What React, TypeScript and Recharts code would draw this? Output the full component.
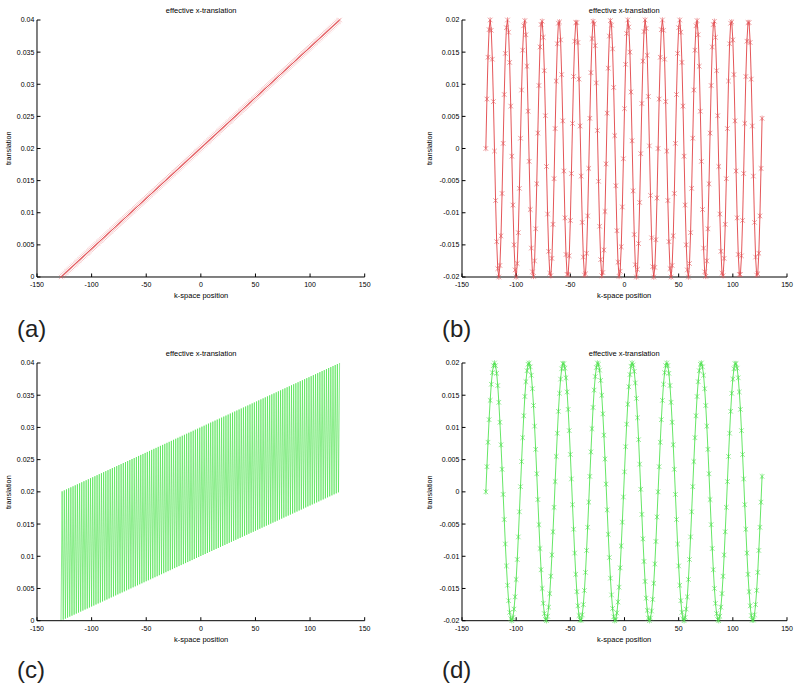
import { LineChart, Line, XAxis, YAxis } from "recharts";

// k-space line index shared by all four panels
const kPos = [
  -128, -127, -126, -125, -124, -123, -122, -121, -120, -119, -118, -117, -116, -115, -114, -113,
  -112, -111, -110, -109, -108, -107, -106, -105, -104, -103, -102, -101, -100, -99, -98, -97,
  -96, -95, -94, -93, -92, -91, -90, -89, -88, -87, -86, -85, -84, -83, -82, -81,
  -80, -79, -78, -77, -76, -75, -74, -73, -72, -71, -70, -69, -68, -67, -66, -65,
  -64, -63, -62, -61, -60, -59, -58, -57, -56, -55, -54, -53, -52, -51, -50, -49,
  -48, -47, -46, -45, -44, -43, -42, -41, -40, -39, -38, -37, -36, -35, -34, -33,
  -32, -31, -30, -29, -28, -27, -26, -25, -24, -23, -22, -21, -20, -19, -18, -17,
  -16, -15, -14, -13, -12, -11, -10, -9, -8, -7, -6, -5, -4, -3, -2, -1,
  0, 1, 2, 3, 4, 5, 6, 7, 8, 9, 10, 11, 12, 13, 14, 15,
  16, 17, 18, 19, 20, 21, 22, 23, 24, 25, 26, 27, 28, 29, 30, 31,
  32, 33, 34, 35, 36, 37, 38, 39, 40, 41, 42, 43, 44, 45, 46, 47,
  48, 49, 50, 51, 52, 53, 54, 55, 56, 57, 58, 59, 60, 61, 62, 63,
  64, 65, 66, 67, 68, 69, 70, 71, 72, 73, 74, 75, 76, 77, 78, 79,
  80, 81, 82, 83, 84, 85, 86, 87, 88, 89, 90, 91, 92, 93, 94, 95,
  96, 97, 98, 99, 100, 101, 102, 103, 104, 105, 106, 107, 108, 109, 110, 111,
  112, 113, 114, 115, 116, 117, 118, 119, 120, 121, 122, 123, 124, 125, 126, 127,
];

// (a) steady drift
const driftA = [
  0, 0.00016, 0.00031, 0.00047, 0.00063, 0.00078, 0.00094, 0.0011, 0.00125, 0.00141, 0.00157, 0.00173, 0.00188, 0.00204, 0.0022, 0.00235,
  0.00251, 0.00267, 0.00282, 0.00298, 0.00314, 0.00329, 0.00345, 0.00361, 0.00376, 0.00392, 0.00408, 0.00424, 0.00439, 0.00455, 0.00471, 0.00486,
  0.00502, 0.00518, 0.00533, 0.00549, 0.00565, 0.0058, 0.00596, 0.00612, 0.00627, 0.00643, 0.00659, 0.00675, 0.0069, 0.00706, 0.00722, 0.00737,
  0.00753, 0.00769, 0.00784, 0.008, 0.00816, 0.00831, 0.00847, 0.00863, 0.00878, 0.00894, 0.0091, 0.00925, 0.00941, 0.00957, 0.00973, 0.00988,
  0.01004, 0.0102, 0.01035, 0.01051, 0.01067, 0.01082, 0.01098, 0.01114, 0.01129, 0.01145, 0.01161, 0.01176, 0.01192, 0.01208, 0.01224, 0.01239,
  0.01255, 0.01271, 0.01286, 0.01302, 0.01318, 0.01333, 0.01349, 0.01365, 0.0138, 0.01396, 0.01412, 0.01427, 0.01443, 0.01459, 0.01475, 0.0149,
  0.01506, 0.01522, 0.01537, 0.01553, 0.01569, 0.01584, 0.016, 0.01616, 0.01631, 0.01647, 0.01663, 0.01678, 0.01694, 0.0171, 0.01725, 0.01741,
  0.01757, 0.01773, 0.01788, 0.01804, 0.0182, 0.01835, 0.01851, 0.01867, 0.01882, 0.01898, 0.01914, 0.01929, 0.01945, 0.01961, 0.01976, 0.01992,
  0.02008, 0.02024, 0.02039, 0.02055, 0.02071, 0.02086, 0.02102, 0.02118, 0.02133, 0.02149, 0.02165, 0.0218, 0.02196, 0.02212, 0.02227, 0.02243,
  0.02259, 0.02275, 0.0229, 0.02306, 0.02322, 0.02337, 0.02353, 0.02369, 0.02384, 0.024, 0.02416, 0.02431, 0.02447, 0.02463, 0.02478, 0.02494,
  0.0251, 0.02525, 0.02541, 0.02557, 0.02573, 0.02588, 0.02604, 0.0262, 0.02635, 0.02651, 0.02667, 0.02682, 0.02698, 0.02714, 0.02729, 0.02745,
  0.02761, 0.02776, 0.02792, 0.02808, 0.02824, 0.02839, 0.02855, 0.02871, 0.02886, 0.02902, 0.02918, 0.02933, 0.02949, 0.02965, 0.0298, 0.02996,
  0.03012, 0.03027, 0.03043, 0.03059, 0.03075, 0.0309, 0.03106, 0.03122, 0.03137, 0.03153, 0.03169, 0.03184, 0.032, 0.03216, 0.03231, 0.03247,
  0.03263, 0.03278, 0.03294, 0.0331, 0.03325, 0.03341, 0.03357, 0.03373, 0.03388, 0.03404, 0.0342, 0.03435, 0.03451, 0.03467, 0.03482, 0.03498,
  0.03514, 0.03529, 0.03545, 0.03561, 0.03576, 0.03592, 0.03608, 0.03624, 0.03639, 0.03655, 0.03671, 0.03686, 0.03702, 0.03718, 0.03733, 0.03749,
  0.03765, 0.0378, 0.03796, 0.03812, 0.03827, 0.03843, 0.03859, 0.03875, 0.0389, 0.03906, 0.03922, 0.03937, 0.03953, 0.03969, 0.03984, 0.04,
];

// (b) fast oscillation
const fastB = [
  0, 0.0077, 0.0142, 0.0185, 0.02, 0.0184, 0.0139, 0.0073, -0.0004, -0.0081, -0.0145, -0.0187, -0.02, -0.0182, -0.0136, -0.007,
  0.0008, 0.0084, 0.0148, 0.0188, 0.02, 0.0181, 0.0134, 0.0066, -0.0012, -0.0088, -0.015, -0.0189, -0.02, -0.0179, -0.0131, -0.0062,
  0.0016, 0.0091, 0.0153, 0.0191, 0.0199, 0.0177, 0.0128, 0.0058, -0.002, -0.0095, -0.0155, -0.0192, -0.0199, -0.0175, -0.0125, -0.0055,
  0.0024, 0.0098, 0.0158, 0.0193, 0.0198, 0.0173, 0.0121, 0.0051, -0.0028, -0.0102, -0.016, -0.0194, -0.0198, -0.0171, -0.0118, -0.0047,
  0.0031, 0.0105, 0.0163, 0.0195, 0.0197, 0.0169, 0.0115, 0.0043, -0.0035, -0.0108, -0.0165, -0.0196, -0.0196, -0.0167, -0.0112, -0.0039,
  0.0039, 0.0112, 0.0167, 0.0196, 0.0196, 0.0165, 0.0108, 0.0035, -0.0043, -0.0115, -0.0169, -0.0197, -0.0195, -0.0163, -0.0105, -0.0031,
  0.0047, 0.0118, 0.0171, 0.0198, 0.0194, 0.016, 0.0102, 0.0028, -0.0051, -0.0121, -0.0173, -0.0198, -0.0193, -0.0158, -0.0098, -0.0024,
  0.0055, 0.0125, 0.0175, 0.0199, 0.0192, 0.0155, 0.0095, 0.002, -0.0058, -0.0128, -0.0177, -0.0199, -0.0191, -0.0153, -0.0091, -0.0016,
  0.0062, 0.0131, 0.0179, 0.02, 0.0189, 0.015, 0.0088, 0.0012, -0.0066, -0.0134, -0.0181, -0.02, -0.0188, -0.0148, -0.0084, -0.0008,
  0.007, 0.0136, 0.0182, 0.02, 0.0187, 0.0145, 0.0081, 0.0004, -0.0073, -0.0139, -0.0184, -0.02, -0.0185, -0.0142, -0.0077,
  0, 0.0077, 0.0142, 0.0185, 0.02, 0.0184, 0.0139, 0.0073, -0.0004, -0.0081, -0.0145, -0.0187, -0.02, -0.0182, -0.0136, -0.007,
  0.0008, 0.0084, 0.0148, 0.0188, 0.02, 0.0181, 0.0134, 0.0066, -0.0012, -0.0088, -0.015, -0.0189, -0.02, -0.0179, -0.0131, -0.0062,
  0.0016, 0.0091, 0.0153, 0.0191, 0.0199, 0.0177, 0.0128, 0.0058, -0.002, -0.0095, -0.0155, -0.0192, -0.0199, -0.0175, -0.0125, -0.0055,
  0.0024, 0.0098, 0.0158, 0.0193, 0.0198, 0.0173, 0.0121, 0.0051, -0.0028, -0.0102, -0.016, -0.0194, -0.0198, -0.0171, -0.0118, -0.0047,
  0.0031, 0.0105, 0.0163, 0.0195, 0.0197, 0.0169, 0.0115, 0.0043, -0.0035, -0.0108, -0.0165, -0.0196, -0.0196, -0.0167, -0.0112, -0.0039,
  0.0039, 0.0112, 0.0167, 0.0196, 0.0196, 0.0165, 0.0108, 0.0035, -0.0043, -0.0115, -0.0169, -0.0197, -0.0195, -0.0163, -0.0105, -0.0031,
  0.0047,
];

// (c) same drift, but lines acquired in two interleaved passes
const mixedC = [
  0, 0.02008, 0.00016, 0.02024, 0.00031, 0.02039, 0.00047, 0.02055, 0.00063, 0.02071, 0.00078, 0.02086, 0.00094, 0.02102, 0.0011, 0.02118,
  0.00125, 0.02133, 0.00141, 0.02149, 0.00157, 0.02165, 0.00173, 0.0218, 0.00188, 0.02196, 0.00204, 0.02212, 0.0022, 0.02227, 0.00235, 0.02243,
  0.00251, 0.02259, 0.00267, 0.02275, 0.00282, 0.0229, 0.00298, 0.02306, 0.00314, 0.02322, 0.00329, 0.02337, 0.00345, 0.02353, 0.00361, 0.02369,
  0.00376, 0.02384, 0.00392, 0.024, 0.00408, 0.02416, 0.00424, 0.02431, 0.00439, 0.02447, 0.00455, 0.02463, 0.00471, 0.02478, 0.00486, 0.02494,
  0.00502, 0.0251, 0.00518, 0.02525, 0.00533, 0.02541, 0.00549, 0.02557, 0.00565, 0.02573, 0.0058, 0.02588, 0.00596, 0.02604, 0.00612, 0.0262,
  0.00627, 0.02635, 0.00643, 0.02651, 0.00659, 0.02667, 0.00675, 0.02682, 0.0069, 0.02698, 0.00706, 0.02714, 0.00722, 0.02729, 0.00737, 0.02745,
  0.00753, 0.02761, 0.00769, 0.02776, 0.00784, 0.02792, 0.008, 0.02808, 0.00816, 0.02824, 0.00831, 0.02839, 0.00847, 0.02855, 0.00863, 0.02871,
  0.00878, 0.02886, 0.00894, 0.02902, 0.0091, 0.02918, 0.00925, 0.02933, 0.00941, 0.02949, 0.00957, 0.02965, 0.00973, 0.0298, 0.00988, 0.02996,
  0.01004, 0.03012, 0.0102, 0.03027, 0.01035, 0.03043, 0.01051, 0.03059, 0.01067, 0.03075, 0.01082, 0.0309, 0.01098, 0.03106, 0.01114, 0.03122,
  0.01129, 0.03137, 0.01145, 0.03153, 0.01161, 0.03169, 0.01176, 0.03184, 0.01192, 0.032, 0.01208, 0.03216, 0.01224, 0.03231, 0.01239, 0.03247,
  0.01255, 0.03263, 0.01271, 0.03278, 0.01286, 0.03294, 0.01302, 0.0331, 0.01318, 0.03325, 0.01333, 0.03341, 0.01349, 0.03357, 0.01365, 0.03373,
  0.0138, 0.03388, 0.01396, 0.03404, 0.01412, 0.0342, 0.01427, 0.03435, 0.01443, 0.03451, 0.01459, 0.03467, 0.01475, 0.03482, 0.0149, 0.03498,
  0.01506, 0.03514, 0.01522, 0.03529, 0.01537, 0.03545, 0.01553, 0.03561, 0.01569, 0.03576, 0.01584, 0.03592, 0.016, 0.03608, 0.01616, 0.03624,
  0.01631, 0.03639, 0.01647, 0.03655, 0.01663, 0.03671, 0.01678, 0.03686, 0.01694, 0.03702, 0.0171, 0.03718, 0.01725, 0.03733, 0.01741, 0.03749,
  0.01757, 0.03765, 0.01773, 0.0378, 0.01788, 0.03796, 0.01804, 0.03812, 0.0182, 0.03827, 0.01835, 0.03843, 0.01851, 0.03859, 0.01867, 0.03875,
  0.01882, 0.0389, 0.01898, 0.03906, 0.01914, 0.03922, 0.01929, 0.03937, 0.01945, 0.03953, 0.01961, 0.03969, 0.01976, 0.03984, 0.01992, 0.04,
];

// (d) slower oscillation
const slowD = [
  0, 0.0039, 0.0077, 0.0112, 0.0142, 0.0167, 0.0185, 0.0196, 0.02, 0.0196, 0.0184, 0.0165, 0.0139, 0.0108, 0.0073, 0.0035,
  -0.0004, -0.0043, -0.0081, -0.0115, -0.0145, -0.0169, -0.0187, -0.0197, -0.02, -0.0195, -0.0182, -0.0163, -0.0136, -0.0105, -0.007, -0.0031,
  0.0008, 0.0047, 0.0084, 0.0118, 0.0148, 0.0171, 0.0188, 0.0198, 0.02, 0.0194, 0.0181, 0.016, 0.0134, 0.0102, 0.0066, 0.0028,
  -0.0012, -0.0051, -0.0088, -0.0121, -0.015, -0.0173, -0.0189, -0.0198, -0.02, -0.0193, -0.0179, -0.0158, -0.0131, -0.0098, -0.0062, -0.0024,
  0.0016, 0.0055, 0.0091, 0.0125, 0.0153, 0.0175, 0.0191, 0.0199, 0.0199, 0.0192, 0.0177, 0.0155, 0.0128, 0.0095, 0.0058, 0.002,
  -0.002, -0.0058, -0.0095, -0.0128, -0.0155, -0.0177, -0.0192, -0.0199, -0.0199, -0.0191, -0.0175, -0.0153, -0.0125, -0.0091, -0.0055, -0.0016,
  0.0024, 0.0062, 0.0098, 0.0131, 0.0158, 0.0179, 0.0193, 0.02, 0.0198, 0.0189, 0.0173, 0.015, 0.0121, 0.0088, 0.0051, 0.0012,
  -0.0028, -0.0066, -0.0102, -0.0134, -0.016, -0.0181, -0.0194, -0.02, -0.0198, -0.0188, -0.0171, -0.0148, -0.0118, -0.0084, -0.0047, -0.0008,
  0.0031, 0.007, 0.0105, 0.0136, 0.0163, 0.0182, 0.0195, 0.02, 0.0197, 0.0187, 0.0169, 0.0145, 0.0115, 0.0081, 0.0043, 0.0004,
  -0.0035, -0.0073, -0.0108, -0.0139, -0.0165, -0.0184, -0.0196, -0.02, -0.0196, -0.0185, -0.0167, -0.0142, -0.0112, -0.0077, -0.0039,
  0, 0.0039, 0.0077, 0.0112, 0.0142, 0.0167, 0.0185, 0.0196, 0.02, 0.0196, 0.0184, 0.0165, 0.0139, 0.0108, 0.0073, 0.0035,
  -0.0004, -0.0043, -0.0081, -0.0115, -0.0145, -0.0169, -0.0187, -0.0197, -0.02, -0.0195, -0.0182, -0.0163, -0.0136, -0.0105, -0.007, -0.0031,
  0.0008, 0.0047, 0.0084, 0.0118, 0.0148, 0.0171, 0.0188, 0.0198, 0.02, 0.0194, 0.0181, 0.016, 0.0134, 0.0102, 0.0066, 0.0028,
  -0.0012, -0.0051, -0.0088, -0.0121, -0.015, -0.0173, -0.0189, -0.0198, -0.02, -0.0193, -0.0179, -0.0158, -0.0131, -0.0098, -0.0062, -0.0024,
  0.0016, 0.0055, 0.0091, 0.0125, 0.0153, 0.0175, 0.0191, 0.0199, 0.0199, 0.0192, 0.0177, 0.0155, 0.0128, 0.0095, 0.0058, 0.002,
  -0.002, -0.0058, -0.0095, -0.0128, -0.0155, -0.0177, -0.0192, -0.0199, -0.0199, -0.0191, -0.0175, -0.0153, -0.0125, -0.0091, -0.0055, -0.0016,
  0.0024,
];

const xTicks = [-150, -100, -50, 0, 50, 100, 150];
const yTicksPos = [0, 0.005, 0.01, 0.015, 0.02, 0.025, 0.03, 0.035, 0.04];
const yTicksSym = [-0.02, -0.015, -0.01, -0.005, 0, 0.005, 0.01, 0.015, 0.02];

const TITLE = "effective x-translation";
const X_LABEL = "k-space position";
const Y_LABEL = "translation";
const panelTags = ["(a)", "(b)", "(c)", "(d)"];

const RED = "#dd2b2f";
const RED_MARK = "#e3575c";
const GREEN = "#3fe03f";
const GREEN_MARK = "#4fe04f";
const FONT = "'Liberation Sans', Arial, sans-serif";

const tickStyle = { fontSize: 7, fill: "#000", fontFamily: FONT };

type Marker = "x" | "star" | null;

function markerShape(p: any, kind: Marker, color: string, r: number, alpha: number) {
  const { cx, cy, index } = p;
  if (cx == null || cy == null) return <g key={`n${index}`} />;
  let d = `M${cx - r},${cy - r}L${cx + r},${cy + r}M${cx - r},${cy + r}L${cx + r},${cy - r}`;
  if (kind === "star") d += `M${cx},${cy - r * 1.2}L${cx},${cy + r * 1.2}`;
  return <path key={`m${index}`} d={d} stroke={color} strokeWidth={0.7} fill="none" opacity={alpha} />;
}

function Panel({
  left, top, w, h, ys, yDomain, yTicks, stroke, markColor, marker, markR, markAlpha = 0.85, lineW = 0.8,
}: {
  left: number; top: number; w: number; h: number; ys: number[];
  yDomain: [number, number]; yTicks: number[]; stroke: string; markColor: string;
  marker: Marker; markR: number; markAlpha?: number; lineW?: number;
}) {
  const yw = 45, xh = 30, mt = 10, mr = 15;
  const data = kPos.map((k, i) => ({ k, y: ys[i] }));
  return (
    <div style={{ position: "absolute", left: left - yw, top: top - mt }}>
      <LineChart width={w + yw + mr} height={h + mt + xh} data={data} margin={{ top: mt, right: mr, bottom: 0, left: 0 }}>
        <XAxis
          type="number" dataKey="k" domain={[-150, 150]} ticks={xTicks} interval={0}
          height={xh} tickSize={-3.5} tickMargin={8.5} stroke="#000" tick={tickStyle}
        />
        <YAxis
          type="number" domain={yDomain} ticks={yTicks} interval={0} width={yw}
          tickSize={-3.5} tickMargin={6.2} stroke="#000" tick={tickStyle}
          tickFormatter={(v: number) => String(v)}
        />
        <Line
          type="linear" dataKey="y" stroke={stroke} strokeWidth={lineW}
          dot={marker ? (p: any) => markerShape(p, marker, markColor, markR, markAlpha) : false}
          activeDot={false}
          isAnimationActive={false}
        />
      </LineChart>
    </div>
  );
}

const boxes = [
  { left: 37.3, top: 19.7, w: 327.7, h: 257 },
  { left: 461.7, top: 19.7, w: 325, h: 257 },
  { left: 37.3, top: 363.3, w: 327.7, h: 257.7 },
  { left: 461.7, top: 363.3, w: 325, h: 257.7 },
];

export default function App() {
  return (
    <div style={{ position: "absolute", left: 0, top: 0, width: 800, height: 689, background: "#fff", overflow: "hidden" }}>
      <Panel {...boxes[0]} ys={driftA} yDomain={[0, 0.04]} yTicks={yTicksPos} stroke={RED} markColor={RED_MARK} marker="x" markR={2.2} markAlpha={0.55} />
      <Panel {...boxes[1]} ys={fastB} yDomain={[-0.02, 0.02]} yTicks={yTicksSym} stroke={RED} markColor={RED_MARK} marker="star" markR={2.3} />
      <Panel {...boxes[2]} ys={mixedC} yDomain={[0, 0.04]} yTicks={yTicksPos} stroke={GREEN} markColor={GREEN_MARK} marker={null} markR={0} lineW={0.6} />
      <Panel {...boxes[3]} ys={slowD} yDomain={[-0.02, 0.02]} yTicks={yTicksSym} stroke={GREEN} markColor={GREEN_MARK} marker="star" markR={2.3} />

      <svg width={800} height={689} style={{ position: "absolute", left: 0, top: 0, pointerEvents: "none" }}>
        {boxes.map((b, i) => {
          const cx = b.left + b.w / 2;
          const cy = b.top + b.h / 2;
          const tagX = i % 2 === 0 ? 17 : 442;
          const tagY = i < 2 ? 337 : 678;
          const ylx = i % 2 === 0 ? 8.8 : 429.5;
          return (
            <g key={i} fontFamily={FONT}>
              <text x={cx} y={b.top - 9.7} fontSize={7.5} textAnchor="middle" dominantBaseline="central" fill="#000">{TITLE}</text>
              <text x={cx} y={b.top + b.h + 18.5} fontSize={7.5} textAnchor="middle" dominantBaseline="central" fill="#000">{X_LABEL}</text>
              <text
                x={ylx} y={cy} fontSize={7.3} textAnchor="middle" dominantBaseline="central" fill="#000"
                transform={`rotate(-90 ${ylx} ${cy})`}
              >
                {Y_LABEL}
              </text>
              <text x={tagX} y={tagY} fontSize={24} fill="#222">{panelTags[i]}</text>
            </g>
          );
        })}
      </svg>
    </div>
  );
}
